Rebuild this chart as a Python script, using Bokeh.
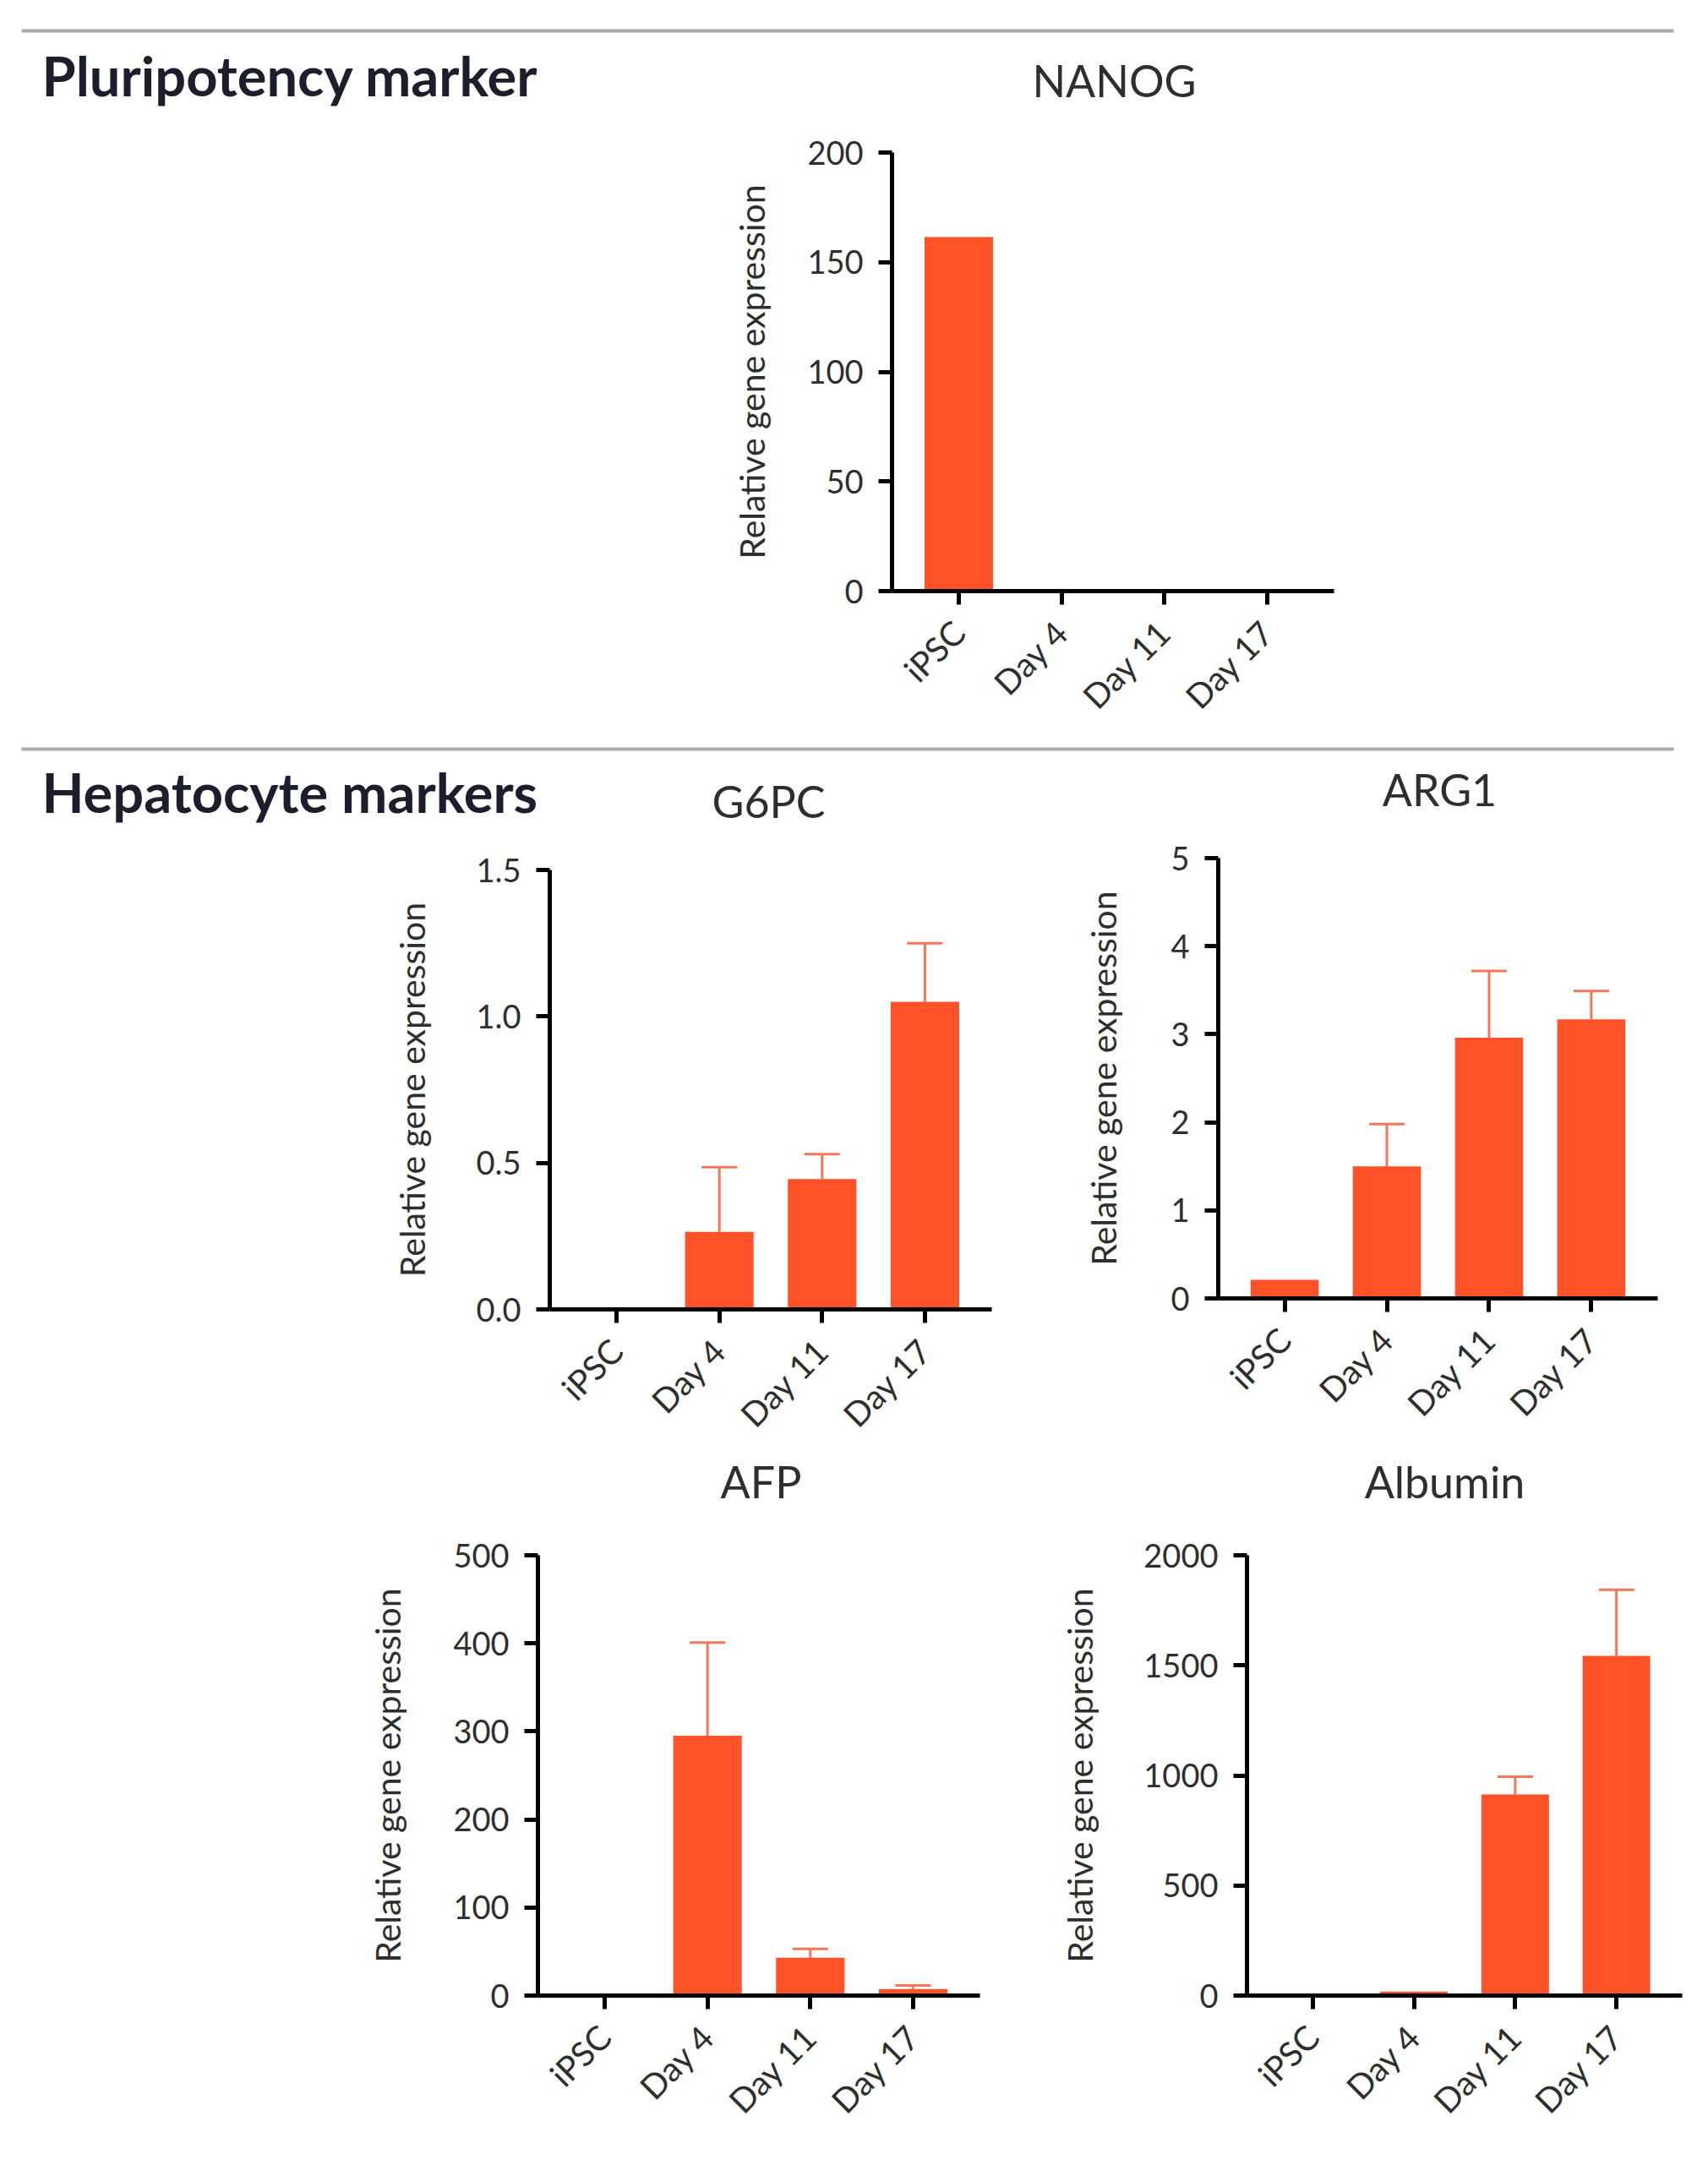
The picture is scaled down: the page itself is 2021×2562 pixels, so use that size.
import math

from bokeh.core.properties import value
from bokeh.embed import file_html
from bokeh.layouts import column, row
from bokeh.models import (ColumnDataSource, FactorRange, FixedTicker,
                          NumeralTickFormatter, Range1d, TeeHead, Whisker)
from bokeh.plotting import figure
from bokeh.resources import INLINE

# ---- data -----------------------------------------------------------------
categories = ["iPSC", "Day 4", "Day 11", "Day 17"]

nanog_mean = [161.5, 0.0, 0.0, 0.0]
nanog_err = [0.0, 0.0, 0.0, 0.0]
nanog_ticks = [0, 50, 100, 150, 200]

g6pc_mean = [0.0, 0.265, 0.445, 1.05]
g6pc_err = [0.0, 0.22, 0.085, 0.2]
g6pc_ticks = [0.0, 0.5, 1.0, 1.5]

arg1_mean = [0.21, 1.5, 2.96, 3.17]
arg1_err = [0.0, 0.48, 0.76, 0.32]
arg1_ticks = [0, 1, 2, 3, 4, 5]

afp_mean = [0.0, 295.0, 43.0, 7.5]
afp_err = [0.0, 106.0, 10.0, 4.0]
afp_ticks = [0, 100, 200, 300, 400, 500]

alb_mean = [0.0, 18.0, 914.0, 1543.0]
alb_err = [0.0, 0.0, 80.0, 301.0]
alb_ticks = [0, 500, 1000, 1500, 2000]

# ---- style ----------------------------------------------------------------
FONT = "Lato"
BAR = "#FF5229"
ERR = "#F4775A"
INK = "#1c1f2b"
TXT = "#2e2e2e"
RULE = "#ababab"
W = 2021


def header(height, rules, texts):
    """A strip whose frame fills the canvas, in pixel units measured from the top."""
    p = figure(width=W, height=height, x_range=Range1d(0, W), y_range=Range1d(height, 0),
               x_axis_type=None, y_axis_type=None, toolbar_location=None,
               output_backend="svg", outline_line_color=None, min_border=0,
               background_fill_color="white", border_fill_color="white")
    for y in rules:
        p.segment(x0=[25], y0=[y], x1=[1980], y1=[y], line_color=RULE, line_width=4)
    for t in texts:
        p.text(x=[t["x"]], y=[t["y"]], text=[t["text"]],
               text_font=value(FONT), text_font_size=t["size"],
               text_font_style=t.get("style", "normal"), text_color=t.get("color", INK),
               text_align=t.get("align", "left"), text_baseline="alphabetic")
    return p


def panel(means, errs, ticks, fmt, width, height, left, right, top, bottom, standoff):
    p = figure(x_range=FactorRange(factors=categories, range_padding=0.15,
                                   range_padding_units="absolute"),
               y_range=Range1d(ticks[0], ticks[-1]),
               width=width, height=height,
               min_border_left=left, min_border_right=right,
               min_border_top=top, min_border_bottom=bottom,
               toolbar_location=None, output_backend="svg",
               outline_line_color=None, background_fill_color="white",
               border_fill_color="white")

    src = ColumnDataSource(dict(cat=categories, mean=means))
    p.vbar(x="cat", top="mean", width=0.667, source=src, fill_color=BAR, line_color=None)

    idx = [i for i, e in enumerate(errs) if e > 0]
    if idx:
        esrc = ColumnDataSource(dict(cat=[categories[i] for i in idx],
                                     lo=[means[i] for i in idx],
                                     hi=[means[i] + errs[i] for i in idx]))
        p.add_layout(Whisker(base="cat", lower="lo", upper="hi", source=esrc,
                             dimension="height", line_color=ERR, line_width=3,
                             upper_head=TeeHead(size=42, line_color=ERR, line_width=3),
                             lower_head=None))

    p.xgrid.visible = False
    p.ygrid.visible = False

    for ax in (p.xaxis[0], p.yaxis[0]):
        ax.axis_line_color = "black"
        ax.axis_line_width = 5
        ax.major_tick_line_color = "black"
        ax.major_tick_line_width = 5
        ax.major_tick_out = 16
        ax.major_tick_in = 0
        ax.minor_tick_line_color = None
        ax.major_label_text_font = FONT
        ax.major_label_text_color = TXT

    p.xaxis.major_label_text_font_size = "40px"
    p.xaxis.major_label_orientation = math.pi / 4
    p.xaxis.major_label_standoff = 26

    p.yaxis.major_label_text_font_size = "38px"
    p.yaxis.ticker = FixedTicker(ticks=ticks)
    p.yaxis.formatter = NumeralTickFormatter(format=fmt)
    p.yaxis.major_label_standoff = 18
    p.yaxis.axis_label = "Relative gene expression"
    p.yaxis.axis_label_text_font = FONT
    p.yaxis.axis_label_text_font_style = "normal"
    p.yaxis.axis_label_text_font_size = "41px"
    p.yaxis.axis_label_text_color = TXT
    p.yaxis.axis_label_standoff = standoff
    return p


def solo(p):
    # each figure sits in its own box so its borders stay as set
    return row(column(p))


# ---- sections -------------------------------------------------------------
head1 = header(150, [36], [
    dict(x=49, y=88, text="Pluripotency marker", size="65px", style="bold"),
    dict(x=1318, y=94, text="NANOG", size="52px", align="center", color=TXT),
])

nanog = panel(nanog_mean, nanog_err, nanog_ticks, "0",
              width=W, height=726, left=1055, right=443, top=30, bottom=177, standoff=38)

head2 = header(114, [10], [
    dict(x=49, y=60, text="Hepatocyte markers", size="65px", style="bold"),
    dict(x=909, y=71, text="G6PC", size="52px", align="center", color=TXT),
    dict(x=1703, y=57, text="ARG1", size="52px", align="center", color=TXT),
])

g6pc = panel(g6pc_mean, g6pc_err, g6pc_ticks, "0.0",
             width=1250, height=729, left=650, right=77, top=39, bottom=170, standoff=48)
arg1 = panel(arg1_mean, arg1_err, arg1_ticks, "0",
             width=771, height=729, left=191, right=60, top=25, bottom=183, standoff=52)

head3 = header(95, [], [
    dict(x=900, y=33, text="AFP", size="52px", align="center", color=TXT),
    dict(x=1709, y=33, text="Albumin", size="52px", align="center", color=TXT),
])

afp = panel(afp_mean, afp_err, afp_ticks, "0",
            width=1250, height=748, left=636, right=91, top=26, bottom=201, standoff=50)
alb = panel(alb_mean, alb_err, alb_ticks, "0",
            width=771, height=748, left=214, right=31, top=26, bottom=201, standoff=48)

page = column(solo(head1), solo(nanog), solo(head2),
              row(solo(g6pc), solo(arg1)), solo(head3),
              row(solo(afp), solo(alb)))

open("out.html", "w").write(file_html(page, INLINE))
